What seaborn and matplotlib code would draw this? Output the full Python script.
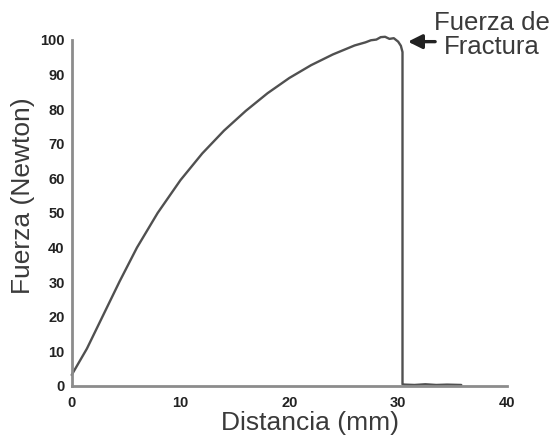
import matplotlib
matplotlib.use("Agg")
import matplotlib.pyplot as plt
import seaborn as sns
import pandas as pd

# Data
distancia = [0.0, 1.4, 2.9, 4.4, 6.0, 7.9, 10.0, 12.0, 14.0, 16.0, 18.0, 20.0,
             22.0, 24.0, 26.0, 27.0, 27.5, 28.0, 28.4, 28.8, 29.2, 29.6, 30.0,
             30.25, 30.4, 30.4, 30.6, 31.5, 32.5, 33.5, 34.5, 35.8]
fuerza = [3.2, 10.8, 20.5, 30.2, 40.0, 50.0, 59.5, 67.2, 73.8, 79.5, 84.6, 89.0,
          92.7, 95.8, 98.4, 99.3, 99.9, 100.1, 100.8, 100.9, 100.3, 100.5, 99.5,
          98.3, 96.5, 0.5, 0.4, 0.3, 0.5, 0.3, 0.4, 0.3]
xticks = [0, 10, 20, 30, 40]
yticks = [0, 10, 20, 30, 40, 50, 60, 70, 80, 90, 100]
flecha_punta = (30.9, 99.5)
flecha_cola = (33.4, 99.5)
texto_pos = (38.6, 101.3)

df = pd.DataFrame({"Distancia": distancia, "Fuerza": fuerza})

sns.set_theme(style="white")
plt.rcParams["font.family"] = ["Liberation Sans", "DejaVu Sans"]

fig = plt.figure(figsize=(5.54, 4.42), dpi=100)
ax = fig.add_axes([0.1294, 0.1267, 0.7857, 0.783])

sns.lineplot(data=df, x="Distancia", y="Fuerza", sort=False, estimator=None,
             color="#505050", linewidth=1.7, ax=ax, clip_on=False)

ax.set_xlim(0, 40)
ax.set_ylim(0, 100)
ax.set_xticks(xticks)
ax.set_yticks(yticks)
ax.set_xticklabels([str(t) for t in xticks])
ax.set_yticklabels([str(t) for t in yticks])

for side in ["top", "right"]:
    ax.spines[side].set_visible(False)
for side in ["left", "bottom"]:
    ax.spines[side].set_color("#8c8c8c")
    ax.spines[side].set_linewidth(2.0)

ax.tick_params(axis="both", which="major", direction="out", length=3,
               width=1.5, color="#8c8c8c", labelsize=10.5, labelcolor="#222222")
ax.tick_params(axis="y", pad=2)
ax.tick_params(axis="x", pad=4)
for lab in ax.get_xticklabels() + ax.get_yticklabels():
    lab.set_fontweight("bold")

ax.set_xlabel("Distancia (mm)", fontsize=19, color="#3a3a3a")
ax.set_ylabel("Fuerza (Newton)", fontsize=19, color="#3a3a3a")
ax.xaxis.set_label_coords(0.547, -0.072)
ax.yaxis.set_label_coords(-0.085, 0.55)

ax.annotate("", xy=flecha_punta, xytext=flecha_cola, annotation_clip=False,
            arrowprops=dict(arrowstyle="-|>,head_length=0.7,head_width=0.35",
                            color="#222222", lw=2.4, shrinkA=0, shrinkB=0))
ax.text(texto_pos[0], texto_pos[1], "Fuerza de\nFractura", ha="center",
        va="center", fontsize=18.5, color="#3a3a3a", linespacing=1.0,
        clip_on=False)

fig.savefig("out.png", dpi=100)
